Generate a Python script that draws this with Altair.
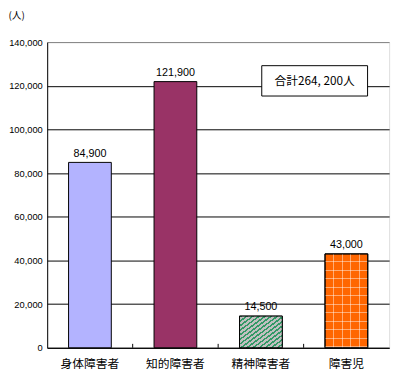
import altair as alt
import pandas as pd

categories = ["身体障害者", "知的障害者", "精神障害者", "障害児"]
values = [84900, 121900, 14500, 43000]
value_labels = ["84,900", "121,900", "14,500", "43,000"]
bar_colors = ["#b3b3ff", "#993366", "#c0c0c0", "#ff6600"]
y_ticks = [0, 20000, 40000, 60000, 80000, 100000, 120000, 140000]
total_text = "合計264, 200人"
total_box = {"top": 129200, "bottom": 115300, "mid": 122300}
unit_text = "(人)"

df = pd.DataFrame({"category": categories, "value": values, "label": value_labels})


def stripes(c1, c2, n, frac, phase=0.0):
    stops = [{"offset": 0, "color": c2}]
    for i in range(n):
        a = (i + phase) / n
        b = (i + phase + frac) / n
        if b > 1:
            break
        stops += [{"offset": a, "color": c2}, {"offset": a, "color": c1},
                  {"offset": b, "color": c1}, {"offset": b, "color": c2}]
    stops.append({"offset": 1, "color": c2})
    return stops


x_scale = alt.Scale(paddingInner=0.5, paddingOuter=0.25)
x_axis = alt.Axis(
    title=None, labelAngle=0, labelFont="Noto Sans CJK JP", labelFontSize=12,
    labelColor="black", domainColor="black", ticks=False, labelPadding=11,
)
y_scale = alt.Scale(domain=[0, 140000], nice=False)
y_axis = alt.Axis(
    values=y_ticks, labelExpr="format(datum.value, ',')", title=unit_text, titleAngle=0,
    titleX=-40, titleY=-32, titleAlign="left", titleBaseline="top",
    titleFont="Noto Sans CJK JP", titleFontSize=10, titleFontWeight="normal",
    titleColor="black",
    labelFont="Liberation Sans", labelFontSize=9.5, labelColor="black",
    ticks=False, labelPadding=5, domainColor="black",
    grid=True,
    gridColor={"condition": {"test": "datum.value === 140000", "value": "#808080"}, "value": "black"},
    gridOpacity=1,
)


def X(**kw):
    return alt.X("category:N", sort=categories, scale=x_scale, axis=x_axis, **kw)


def Y(field="value"):
    return alt.Y(f"{field}:Q", scale=y_scale, axis=y_axis)


base = alt.Chart(df)

bars = base.mark_bar(stroke="black", strokeWidth=1).encode(
    x=X(),
    y=Y(),
    color=alt.Color("category:N", scale=alt.Scale(domain=categories, range=bar_colors), legend=None),
)

stripe_bar = base.transform_filter(alt.datum.category == categories[2]).mark_bar(
    stroke="black", strokeWidth=1,
    fill=alt.Gradient(gradient="linear", x1=0, y1=0, x2=1, y2=1,
                      stops=stripes("#339966", "#c0c0c0", 14, 0.42)),
).encode(x=X(), y=Y())

grid_v = base.transform_filter(alt.datum.category == categories[3]).mark_bar(
    fill=alt.Gradient(gradient="linear", x1=0, y1=0, x2=1, y2=0,
                      stops=stripes("rgba(255,255,255,0.45)", "rgba(255,255,255,0)", 5, 0.12, 0.95)),
).encode(x=X(), y=Y())

grid_h = base.transform_filter(alt.datum.category == categories[3]).mark_bar(
    fill=alt.Gradient(gradient="linear", x1=0, y1=0, x2=0, y2=1,
                      stops=stripes("rgba(255,255,255,0.45)", "rgba(255,255,255,0)", 11, 0.12, 0.85)),
).encode(x=X(), y=Y())

outline = base.transform_filter(alt.datum.category == categories[3]).mark_bar(
    fill="transparent", stroke="black", strokeWidth=1,
).encode(x=X(), y=Y())

ticks = base.transform_filter(alt.datum.category != categories[0]).mark_rule(
    color="black", strokeWidth=1, xOffset={"expr": "-bandwidth('x')/2"},
).encode(x=X(bandPosition=0), y=alt.value(312), y2=alt.value(308))

texts = base.mark_text(baseline="alphabetic", dy=-6, fontSize=11, font="Liberation Sans", color="black").encode(
    x=X(), y=Y(), text="label:N"
)

ann_df = pd.DataFrame([{"t": total_text, **total_box}])
ann_box = alt.Chart(ann_df).mark_rect(fill="white", stroke="black", strokeWidth=1).encode(
    x=alt.value(219), x2=alt.value(327), y=Y("top"), y2="bottom:Q"
)
ann_text = alt.Chart(ann_df).mark_text(
    font="Noto Sans CJK JP", fontSize=12, color="black", baseline="middle", align="center"
).encode(x=alt.value(273), y=Y("mid"), text="t:N")

chart = alt.layer(bars, stripe_bar, grid_v, grid_h, outline, ticks, texts, ann_box, ann_text).properties(
    width=349, height=312,
    autosize="none",
    padding={"left": 40, "top": 31, "right": 6, "bottom": 25},
).configure_view(stroke="#808080", strokeWidth=1).configure(background="white")

chart.save("out.html", embed_options={"renderer": "svg", "actions": False})
